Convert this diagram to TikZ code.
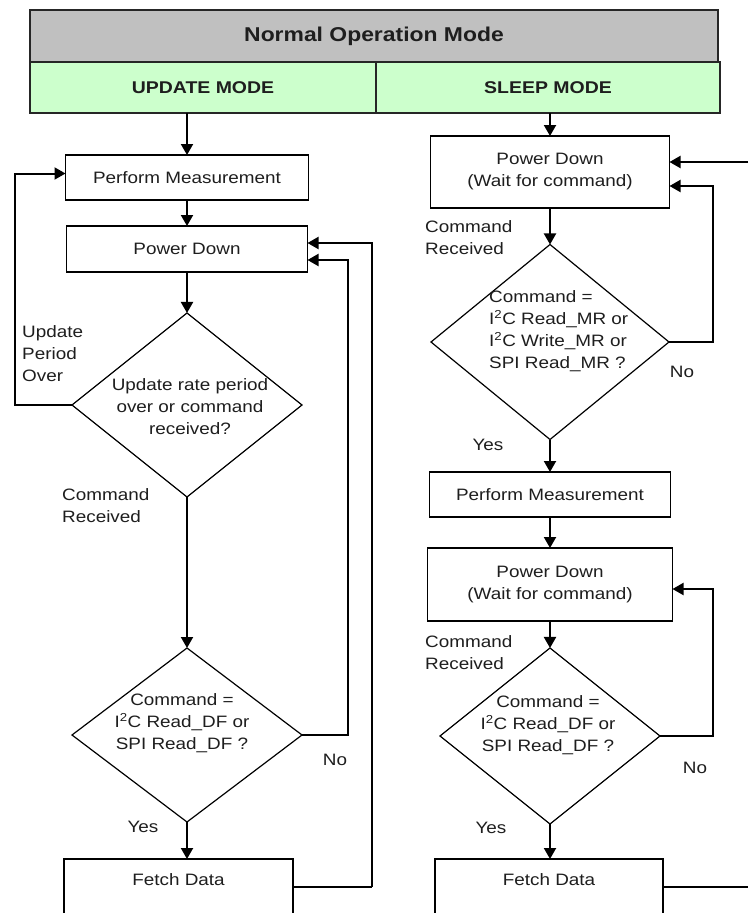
\documentclass[tikz,border=0pt]{standalone}
\usepackage{fontspec}
\setmainfont[FakeStretch=1.145]{Liberation Sans}
\usetikzlibrary{arrows.meta,shapes.geometric}
\definecolor{hdrgray}{RGB}{192,192,192}
\definecolor{hdrgreen}{RGB}{204,255,204}
\definecolor{txt}{RGB}{30,30,30}
\begin{document}
\begin{tikzpicture}[x=1pt,y=-1pt,
  txtn/.style={text=txt, font=\fontsize{16.5}{22}\selectfont, inner sep=0pt, align=center},
  box/.style={txtn, draw=black, line width=1.4pt, rectangle, outer sep=0pt},
  dia/.style={draw=black, line width=1.2pt, diamond, inner sep=0pt, outer sep=0pt},
  lbl/.style={txtn, align=left, anchor=west},
  hdr/.style={draw=black!85, line width=1.5pt, rectangle, inner sep=0pt, text=txt,
              font=\bfseries\fontsize{17}{20}\selectfont},
  arr/.style={line width=2pt, -{Triangle[length=11pt,width=12pt]}},
  con/.style={line width=2pt},
]
\useasboundingbox (0,0) rectangle (748,913);
\clip (0,0) rectangle (748,913);
\fill[white] (0,0) rectangle (748,913);

% header
\node[hdr, fill=hdrgray, minimum width=688pt, minimum height=52pt,
      font=\bfseries\fontsize{20}{24}\selectfont] (title) at (374,36) {Normal Operation Mode};
\node[hdr, fill=hdrgreen, minimum width=346pt, minimum height=51pt] (upd) at (203,87.5) {UPDATE MODE};
\node[hdr, fill=hdrgreen, minimum width=344pt, minimum height=51pt] (slp) at (548,87.5) {SLEEP MODE};

\coordinate (u1) at (187,113);
\coordinate (u2) at (550,113);
\coordinate (lx) at (15,0);
\coordinate (rx1) at (348,0);
\coordinate (rx2) at (372,0);
\coordinate (rx3) at (713,0);
\coordinate (e1) at (748,162);
\coordinate (e2) at (748,887);

% left column
\node[box, minimum width=243pt, minimum height=45pt] (pm1) at (187,177.5) {Perform Measurement};
\node[box, minimum width=241pt, minimum height=46pt] (pd1) at (187,249) {Power Down};
\node[dia, minimum width=230pt, minimum height=184pt] (d1) at (187,405) {};
\node[txtn] (d1t) at (190,407) {Update rate period\\over or command\\received?};
\node[dia, minimum width=230pt, minimum height=174pt] (d2) at (187,735) {};
\node[txtn] (d2t) at (182,723) {Command =\\I\textsuperscript{2}C Read\_DF or\\SPI Read\_DF ?};
\node[box, minimum width=229pt, minimum height=82pt] (fd1) at (178.5,900) {};
\node[txtn] (fd1t) at (178.5,880) {Fetch Data};

\draw[arr] (u1) -- (pm1.north);
\draw[arr] (pm1) -- (pd1);
\draw[arr] (pd1) -- (d1);
\draw[arr] (d1.west) -- (d1.west -| lx) |- ([yshift=4pt]pm1.west);
\draw[arr] (d1) -- (d2);
\draw[arr] (d2.east) -- (d2.east -| rx1) |- ([yshift=-11pt]pd1.east);
\draw[arr] (d2.south) -- (d2.south |- fd1.north);
\draw[con] ([yshift=13pt]fd1.east) -- ([yshift=13pt]fd1.east -| rx2);
\draw[arr] ([yshift=13pt]fd1.east -| rx2) |- ([yshift=6pt]pd1.east);

\node[lbl] (l1) at (22,354) {Update\\Period\\Over};
\node[lbl] (l2) at (62,506) {Command\\Received};
\node[txtn] (l3) at (335,760) {No};
\node[txtn] (l4) at (143,827) {Yes};

% right column
\node[box, minimum width=239pt, minimum height=72pt] (pd2) at (550,172) {Power Down\\(Wait for command)};
\node[dia, minimum width=238pt, minimum height=195pt] (d3) at (550,342) {};
\node[txtn, align=left, anchor=west] (d3t) at (489,331) {Command =\\I\textsuperscript{2}C Read\_MR or\\I\textsuperscript{2}C Write\_MR or\\SPI Read\_MR ?};
\node[box, minimum width=241pt, minimum height=45pt] (pm2) at (550,494.5) {Perform Measurement};
\node[box, minimum width=245pt, minimum height=73pt] (pd3) at (550,584.5) {Power Down\\(Wait for command)};
\node[dia, minimum width=220pt, minimum height=176pt] (d4) at (550,736) {};
\node[txtn] (d4t) at (548,725) {Command =\\I\textsuperscript{2}C Read\_DF or\\SPI Read\_DF ?};
\node[box, minimum width=228pt, minimum height=82pt] (fd2) at (549,900) {};
\node[txtn] (fd2t) at (549,880) {Fetch Data};

\draw[arr] (u2) -- (pd2.north);
\draw[arr] (pd2) -- (d3);
\draw[arr] (d3) -- (pm2);
\draw[arr] (pm2) -- (pd3);
\draw[arr] (pd3) -- (d4);
\draw[arr] (d4.south) -- (d4.south |- fd2.north);
\draw[arr] (d3.east) -- (d3.east -| rx3) |- ([yshift=-14pt]pd2.east);
\draw[arr] (e1) -- (e1 -| pd2.east);
\draw[arr] (d4.east) -- (d4.east -| rx3) |- ([yshift=-4.5pt]pd3.east);
\draw[con] ([yshift=13pt]fd2.east) -- ([yshift=13pt]fd2.east -| e2);

\node[lbl] (l5) at (425,238) {Command\\Received};
\node[txtn] (l6) at (682,372) {No};
\node[txtn] (l7) at (488,445) {Yes};
\node[lbl] (l8) at (425,653) {Command\\Received};
\node[txtn] (l9) at (695,768) {No};
\node[txtn] (l10) at (491,828) {Yes};
\end{tikzpicture}
\end{document}
